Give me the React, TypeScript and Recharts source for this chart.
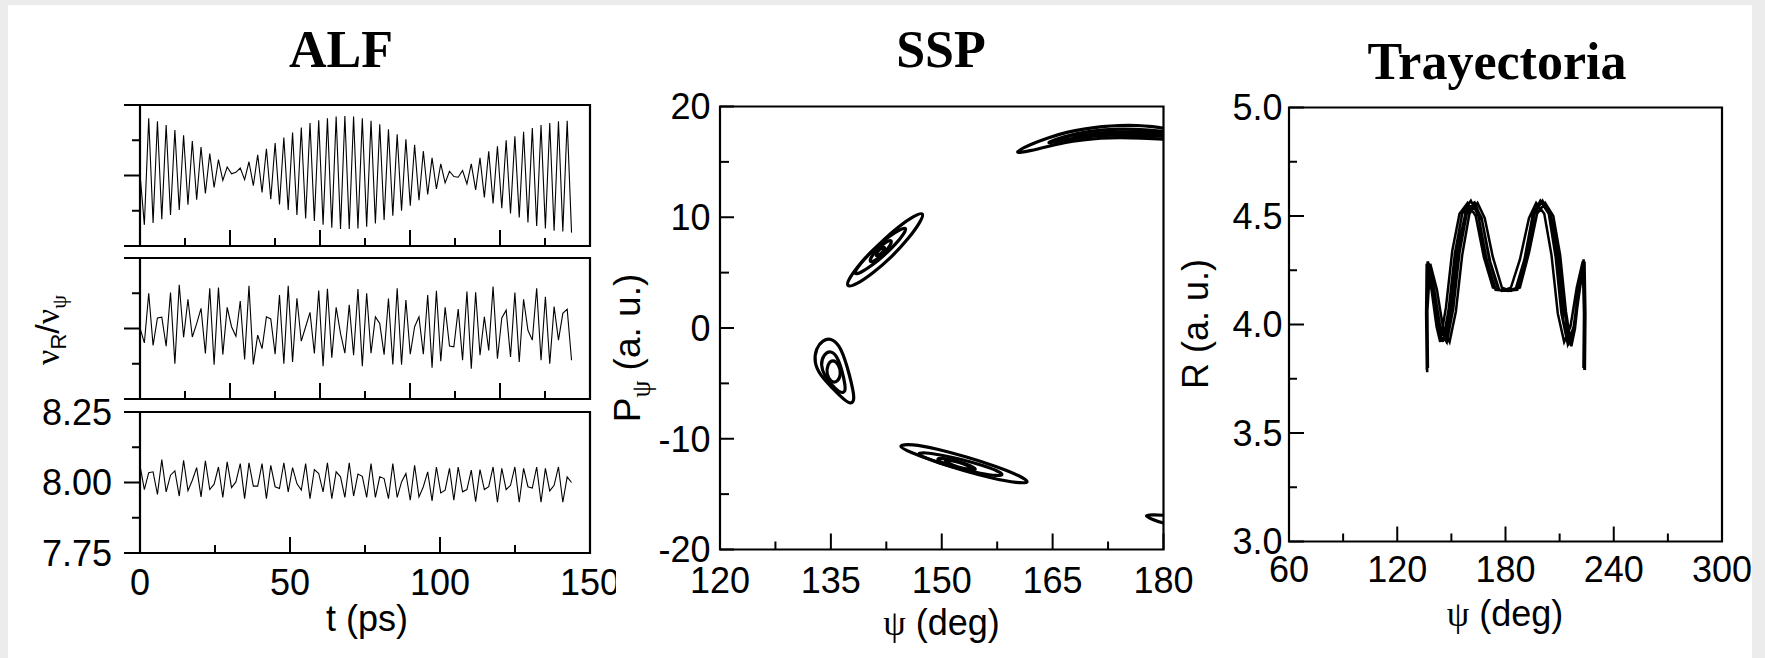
import React from 'react';
import { LineChart, Line, XAxis, YAxis, ReferenceArea } from 'recharts';

const SANS = '"Liberation Sans", Arial, Helvetica, sans-serif';
const SERIF = '"Liberation Serif", "Times New Roman", Times, serif';

// ALF: series sampled every ~1.45 ps, 0..144 ps
const ALF_T_STEP = 1.453;

const alfTop = [
  0.05, -1.40, 1.62, -1.35, 1.54, -1.24, 1.43, -1.12, 1.29, -0.98,
  1.14, -0.83, 0.98, -0.69, 0.81, -0.51, 0.62, -0.34, 0.45, -0.14,
  0.24, 0.05, 0.09, 0.21, -0.12, 0.39, -0.29, 0.59, -0.48, 0.76,
  -0.67, 0.92, -0.82, 1.08, -0.98, 1.22, -1.12, 1.36, -1.22, 1.49,
  -1.29, 1.57, -1.40, 1.62, -1.48, 1.67, -1.52, 1.69, -1.52, 1.67,
  -1.50, 1.62, -1.45, 1.55, -1.36, 1.45, -1.26, 1.31, -1.14, 1.17,
  -1.00, 1.03, -0.86, 0.87, -0.70, 0.69, -0.54, 0.50, -0.38, 0.33,
  -0.21, 0.12, -0.03, -0.05, 0.14, -0.24, 0.33, -0.41, 0.50, -0.62,
  0.69, -0.79, 0.83, -0.93, 1.00, -1.08, 1.11, -1.19, 1.24, -1.33,
  1.35, -1.43, 1.43, -1.50, 1.49, -1.57, 1.54, -1.59, 1.55, -1.62,
];

const alfMid = [
  0.02, -0.41, 1.00, -0.48, 0.30, 0.32, -0.50, 1.02, -1.00, 1.24,
  -0.25, 0.83, -0.24, 0.14, 0.57, -0.71, 1.14, -1.03, 1.16, -0.74,
  0.60, 0.05, -0.22, 0.78, -0.88, 1.21, -1.02, -0.19, -0.57, 0.33,
  0.27, -0.73, 0.95, -1.00, 1.21, -0.95, 0.86, -0.36, 0.05, 0.46,
  -0.71, 1.08, -1.07, 1.13, -0.83, 0.60, -0.14, -0.70, 0.67, -0.76,
  1.12, -1.07, 1.00, -0.70, 0.33, 0.14, -0.74, 0.85, -1.02, 1.14,
  -1.03, 0.81, -0.73, 0.05, 0.33, -0.73, 0.95, -1.11, 1.07, -0.93,
  0.60, -0.50, -0.52, 0.55, -0.90, 1.05, -1.14, 1.03, -0.76, 0.33,
  -0.62, 1.19, -0.86, 0.30, 0.52, -0.81, 1.02, -0.95, 0.83, -0.05,
  -0.33, 1.14, -0.90, 0.90, -1.00, 0.62, -0.33, 0.43, 0.55, -0.90,
];

const alfRatio = [
  8.060, 7.975, 8.035, 8.038, 7.958, 8.081, 7.967, 8.026, 8.041, 7.952,
  8.079, 7.971, 8.008, 8.053, 7.949, 8.077, 7.975, 7.994, 8.055, 7.947,
  8.073, 7.982, 8.002, 8.067, 7.943, 8.070, 7.987, 7.987, 8.067, 7.943,
  8.061, 7.985, 7.979, 8.070, 7.967, 8.053, 7.996, 7.973, 8.067, 7.943,
  8.046, 8.032, 7.967, 8.070, 7.943, 8.038, 8.020, 7.947, 8.070, 7.952,
  8.030, 8.022, 7.947, 8.067, 7.947, 8.020, 8.014, 7.943, 8.067, 7.947,
  8.002, 8.032, 7.937, 8.061, 7.949, 7.985, 8.038, 7.935, 8.055, 7.963,
  7.973, 8.050, 7.937, 8.055, 7.967, 7.975, 8.044, 7.932, 8.046, 7.975,
  7.985, 8.055, 7.930, 8.050, 7.975, 7.990, 8.055, 7.930, 8.050, 7.985,
  7.980, 8.055, 7.930, 8.050, 7.970, 7.990, 8.055, 7.930, 8.020, 8.000,
];

// SSP: closed loops [psi, P_psi]
const islandA1: [number, number][] = [
  [147.7, 10.5], [147.1, 9.55], [145.6, 8.15], [143.3, 6.45], [140.6, 4.9], [138.4, 3.9],
  [137.0, 3.65], [137.5, 4.55], [139.1, 5.95], [141.6, 7.65], [144.2, 9.2], [146.3, 10.15],
];
const islandA2: [number, number][] = [
  [145.3, 9.1], [144.92, 8.54], [143.88, 7.65], [142.25, 6.57], [140.48, 5.6], [139.03, 4.99],
  [138.1, 4.8], [138.48, 5.37], [139.52, 6.25], [141.15, 7.33], [142.92, 8.3], [144.37, 8.92],
];
const islandA3: [number, number][] = [
  [143.2, 7.9], [143.18, 7.65], [142.78, 7.21], [142.1, 6.7], [141.33, 6.25], [140.67, 5.99],
  [140.3, 5.98], [140.32, 6.23], [140.72, 6.67], [141.4, 7.18], [142.17, 7.63], [142.83, 7.89],
];
const islandA4: [number, number][] = [
  [142.3, 7.3], [142.27, 7.08], [141.9, 6.76], [141.42, 6.52], [141.1, 6.5], [141.14, 6.72], [141.5, 7.04], [141.98, 7.28],
];
const islandB1: [number, number][] = [
  [135.0, -0.9], [136.1, -1.5], [136.9, -2.8], [137.5, -4.2], [138.0, -5.6], [138.2, -6.6], [137.6, -6.9],
  [136.5, -6.3], [135.1, -5.35], [133.6, -4.3], [132.7, -3.1], [133.0, -1.8], [133.9, -1.1],
];
const islandB2: [number, number][] = [
  [135.0, -2.0], [135.9, -2.6], [136.5, -3.8], [136.9, -5.0], [137.0, -5.8], [136.3, -5.9],
  [135.2, -5.2], [134.1, -4.3], [133.6, -3.3], [134.0, -2.4],
];
const islandB3: [number, number][] = [
  [135.3, -2.8], [136.1, -3.3], [136.4, -4.2], [135.9, -4.9], [135.0, -4.9], [134.4, -4.2], [134.5, -3.3],
];
const islandC1: [number, number][] = [
  [162.1, -14.0], [160.26, -14.0], [157.13, -13.62], [152.94, -12.9], [148.83, -12.0], [145.7, -11.2],
  [143.8, -10.6], [145.9, -10.45], [149.28, -10.9], [153.46, -11.65], [157.58, -12.54], [160.6, -13.35],
];
const islandC2: [number, number][] = [
  [158.4, -13.28], [157.53, -13.36], [155.34, -13.15], [152.42, -12.72], [149.54, -12.17], [147.49, -11.66],
  [146.6, -11.3], [147.67, -11.24], [149.86, -11.45], [152.78, -11.88], [155.66, -12.43], [157.71, -12.94],
];
const islandC3: [number, number][] = [
  [154.8, -12.8], [153.91, -12.87], [151.9, -12.6], [149.95, -12.16], [149.2, -11.8], [150.09, -11.73], [152.1, -12.0], [154.05, -12.44],
];
const islandC4: [number, number][] = [
  [154.3, -12.75], [153.66, -12.79], [152.22, -12.57], [150.83, -12.22], [150.3, -11.95], [150.94, -11.91], [152.38, -12.13], [153.77, -12.48],
];
const islandD1: [number, number][] = [
  [159.4, 15.7], [162.0, 16.6], [164.5, 17.2], [166.9, 17.7], [169.5, 18.0], [171.7, 18.2], [174.0, 18.3],
  [176.5, 18.3], [178.5, 18.2], [180.5, 18.0], [182.5, 17.7], [182.5, 16.9], [180.0, 17.05], [177.0, 17.15],
  [174.1, 17.2], [171.5, 17.15], [169.2, 17.0], [166.5, 16.75], [164.4, 16.4], [162.0, 16.0],
];
const islandD2: [number, number][] = [
  [163.5, 16.55], [166.5, 17.3], [170.0, 17.8], [174.0, 18.0], [178.0, 17.9], [182.0, 17.6],
  [182.0, 17.25], [178.0, 17.35], [174.0, 17.45], [170.0, 17.35], [166.5, 17.0],
];
const islandD3: [number, number][] = [
  [166.5, 17.05], [170.0, 17.55], [174.0, 17.75], [178.0, 17.7], [182.0, 17.5], [178.0, 17.5], [174.0, 17.55], [170.0, 17.45],
];
const islandE1: [number, number][] = [
  [177.3, -16.9], [178.5, -16.85], [180.0, -16.9], [182.0, -17.0], [182.0, -17.8], [180.0, -17.65], [178.5, -17.3],
];

const sspLoops = [
  islandA1, islandA2, islandA3, islandA4,
  islandB1, islandB2, islandB3,
  islandC1, islandC2, islandC3, islandC4,
  islandD1, islandD2, islandD3,
  islandE1,
];

// Trayectoria: [psi, R], passes back and forth
const trajectory: [number, number][] = [
  [136.4, 3.79], [136.0, 4.05], [136.3, 4.28], [139.0, 4.16], [141.8, 3.99], [143.8, 3.92], [147.0, 4.08],
  [150.5, 4.34], [154.5, 4.51], [159.0, 4.56], [163.5, 4.50], [168.0, 4.31], [173.0, 4.17], [178.0, 4.155],
  [183.0, 4.17], [188.0, 4.30], [193.0, 4.49], [197.0, 4.56], [201.5, 4.51], [205.5, 4.32], [209.0, 4.05],
  [212.5, 3.92], [216.0, 3.99], [219.5, 4.17], [222.8, 4.29], [223.5, 4.05], [223.2, 3.80],
  [223.8, 4.05], [223.5, 4.27], [220.5, 4.16], [217.8, 3.99], [215.8, 3.91], [212.8, 4.06], [209.3, 4.33],
  [205.0, 4.50], [200.5, 4.57], [196.0, 4.51], [191.5, 4.32], [186.5, 4.17], [181.5, 4.155], [176.5, 4.16],
  [171.5, 4.29], [167.0, 4.48], [163.0, 4.56], [158.5, 4.51], [154.5, 4.33], [151.0, 4.07], [147.5, 3.92],
  [144.0, 3.98], [140.5, 4.16], [137.0, 4.29], [136.2, 4.05], [136.6, 3.78],
  [136.3, 4.05], [136.8, 4.29], [139.5, 4.17], [142.5, 3.99], [145.3, 3.92], [148.5, 4.07], [152.0, 4.33],
  [156.0, 4.51], [160.8, 4.57], [165.0, 4.50], [169.5, 4.30], [174.5, 4.16], [180.0, 4.155], [185.5, 4.16],
  [190.5, 4.30], [195.0, 4.50], [199.3, 4.57], [204.0, 4.51], [207.8, 4.31], [211.0, 4.05], [214.5, 3.91],
  [217.8, 3.99], [220.8, 4.17], [223.3, 4.30], [224.0, 4.05], [223.7, 3.79],
  [224.2, 4.05], [223.8, 4.28], [221.0, 4.17], [218.5, 3.98], [216.5, 3.90], [213.5, 4.06], [210.3, 4.32],
  [206.5, 4.50], [202.0, 4.56], [197.5, 4.51], [193.0, 4.33], [188.0, 4.17], [183.0, 4.155], [178.0, 4.17],
  [173.0, 4.31], [168.5, 4.49], [164.5, 4.56], [160.0, 4.51], [156.0, 4.32], [152.5, 4.06], [149.0, 3.92],
  [145.5, 3.98], [142.0, 4.16], [138.3, 4.28], [136.6, 4.05], [137.0, 3.80],
  [136.7, 4.06], [137.3, 4.28], [140.2, 4.16], [143.5, 3.99], [146.8, 3.93], [150.0, 4.09], [153.8, 4.36],
  [158.0, 4.52], [162.5, 4.56], [166.8, 4.49], [171.0, 4.30], [176.0, 4.16], [181.0, 4.155], [186.5, 4.16],
  [191.5, 4.31], [196.0, 4.51], [200.5, 4.57], [205.0, 4.50], [208.8, 4.29], [212.0, 4.02], [215.3, 3.92],
  [218.5, 4.00], [221.5, 4.18], [223.8, 4.29], [224.3, 4.05], [224.0, 3.79],
];

// ticks
const alfXTicks = [0, 15, 30, 45, 60, 75, 90, 105, 120, 135, 150];
const alfXMajor = [0, 30, 60, 90, 120, 150];
const ratioXTicks = [0, 25, 50, 75, 100, 125, 150];
const ratioXMajor = [0, 50, 100, 150];
const alfYTicks = [-2, -1, 0, 1, 2];
const alfYMajor = [-2, 0, 2];
const ratioYTicks = [7.75, 7.875, 8, 8.125, 8.25];
const ratioYMajor = [7.75, 8, 8.25];
const sspXTicks = [120, 127.5, 135, 142.5, 150, 157.5, 165, 172.5, 180];
const sspXMajor = [120, 135, 150, 165, 180];
const sspYTicks = [-20, -15, -10, -5, 0, 5, 10, 15, 20];
const sspYMajor = [-20, -10, 0, 10, 20];
const trajXTicks = [60, 90, 120, 150, 180, 210, 240, 270, 300];
const trajXMajor = [60, 120, 180, 240, 300];
const trajYTicks = [3, 3.25, 3.5, 3.75, 4, 4.25, 4.5, 4.75, 5];
const trajYMajor = [3, 3.5, 4, 4.5, 5];

interface TickOpts {
  side: 'left' | 'bottom';
  major: number[];
  majorLen: number;
  minorLen: number;
  inward: boolean;
  gap?: number;
  format?: (v: number) => string;
}

function axisTick(o: TickOpts) {
  return (props: any) => {
    const { x, y, payload } = props;
    const v = payload.value;
    const isMajor = o.major.some((m) => Math.abs(m - v) < 1e-9);
    const len = isMajor ? o.majorLen : o.minorLen;
    const label = isMajor && o.format ? o.format(v) : null;
    if (o.side === 'left') {
      const x2 = o.inward ? x + len : x - len;
      return (
        <g>
          <line x1={x} y1={y} x2={x2} y2={y} stroke="#000" strokeWidth={2} />
          {label !== null && (
            <text x={x - (o.gap || 0)} y={y} dy="0.36em" textAnchor="end" fontFamily={SANS} fontSize={36} fill="#000">
              {label}
            </text>
          )}
        </g>
      );
    }
    return (
      <g>
        <line x1={x} y1={y} x2={x} y2={y - len} stroke="#000" strokeWidth={2} />
        {label !== null && (
          <text x={x} y={y + (o.gap || 0)} textAnchor="middle" fontFamily={SANS} fontSize={36} fill="#000">
            {label}
          </text>
        )}
      </g>
    );
  };
}

interface PanelProps {
  cx: number; cy: number; cw: number; ch: number;
  px: number; py: number; pw: number; ph: number;
  xDomain: [number, number];
  yDomain: [number, number];
  xTicks: number[];
  yTicks: number[];
  xTick: any;
  yTick: any;
  xKey: string;
  data?: any[];
  clip?: boolean;
  children: React.ReactNode;
}

function Panel(p: PanelProps) {
  const margin = { top: p.py - p.cy, left: 0, right: p.cx + p.cw - (p.px + p.pw), bottom: 0 };
  return (
    <div style={{ position: 'absolute', left: p.cx, top: p.cy, width: p.cw, height: p.ch, overflow: p.clip ? 'hidden' : 'visible' }}>
      <LineChart width={p.cw} height={p.ch} data={p.data} margin={margin}>
        <XAxis
          type="number" dataKey={p.xKey} domain={p.xDomain} ticks={p.xTicks} interval={0} allowDataOverflow
          tickLine={false} axisLine={false} tickSize={0} tickMargin={0}
          height={p.cy + p.ch - (p.py + p.ph)} tick={p.xTick}
        />
        <YAxis
          type="number" domain={p.yDomain} ticks={p.yTicks} interval={0} allowDataOverflow
          tickLine={false} axisLine={false} tickSize={0} tickMargin={0}
          width={p.px - p.cx} tick={p.yTick}
        />
        <ReferenceArea
          x1={p.xDomain[0]} x2={p.xDomain[1]} y1={p.yDomain[0]} y2={p.yDomain[1]}
          fill="none" fillOpacity={0} stroke="#000" strokeWidth={2.2} ifOverflow="visible"
        />
        {p.children}
      </LineChart>
    </div>
  );
}

export default function App() {
  const topRows = alfTop.map((v, i) => ({ t: i * ALF_T_STEP, v }));
  const midRows = alfMid.map((v, i) => ({ t: i * ALF_T_STEP, v }));
  const ratioRows = alfRatio.map((v, i) => ({ t: i * ALF_T_STEP, v }));

  const alfXTick = axisTick({ side: 'bottom', major: alfXMajor, majorLen: 16, minorLen: 8, inward: true });
  const alfYTick = axisTick({ side: 'left', major: alfYMajor, majorLen: 16, minorLen: 8, inward: false });
  const ratioXTick = axisTick({ side: 'bottom', major: ratioXMajor, majorLen: 16, minorLen: 8, inward: true, gap: 42, format: (v) => String(v) });
  const ratioYTick = axisTick({ side: 'left', major: ratioYMajor, majorLen: 16, minorLen: 8, inward: false, gap: 28, format: (v) => v.toFixed(2) });
  const sspXTick = axisTick({ side: 'bottom', major: sspXMajor, majorLen: 16, minorLen: 8, inward: true, gap: 43, format: (v) => String(v) });
  const sspYTick = axisTick({ side: 'left', major: sspYMajor, majorLen: 14, minorLen: 9, inward: true, gap: 9.5, format: (v) => String(v) });
  const trajXTick = axisTick({ side: 'bottom', major: trajXMajor, majorLen: 15, minorLen: 8, inward: true, gap: 40, format: (v) => String(v) });
  const trajYTick = axisTick({ side: 'left', major: trajYMajor, majorLen: 15, minorLen: 8, inward: true, gap: 6.5, format: (v) => v.toFixed(1) });

  const trajData = trajectory.map(([x, y]) => ({ x, y }));

  return (
    <div style={{ position: 'absolute', left: 0, top: 0, width: 1765, height: 658, background: '#ececec', overflow: 'hidden' }}>
      <div style={{ position: 'absolute', left: 8, top: 5, width: 1744, height: 653, background: '#ffffff' }} />

      <Panel cx={0} cy={85} cw={616} ch={167} px={140} py={105} pw={450} ph={141}
        xDomain={[0, 150]} yDomain={[-2, 2]} xTicks={alfXTicks} yTicks={alfYTicks}
        xTick={alfXTick} yTick={alfYTick} xKey="t" data={topRows}>
        <Line dataKey="v" type="linear" stroke="#000" strokeWidth={1.1} dot={false} isAnimationActive={false} />
      </Panel>

      <Panel cx={0} cy={245} cw={616} ch={160} px={140} py={258} pw={450} ph={141}
        xDomain={[0, 150]} yDomain={[-2, 2]} xTicks={alfXTicks} yTicks={alfYTicks}
        xTick={alfXTick} yTick={alfYTick} xKey="t" data={midRows}>
        <Line dataKey="v" type="linear" stroke="#000" strokeWidth={1.1} dot={false} isAnimationActive={false} />
      </Panel>

      <Panel cx={0} cy={385} cw={616} ch={273} px={140} py={412} pw={450} ph={141} clip
        xDomain={[0, 150]} yDomain={[7.75, 8.25]} xTicks={ratioXTicks} yTicks={ratioYTicks}
        xTick={ratioXTick} yTick={ratioYTick} xKey="t" data={ratioRows}>
        <Line dataKey="v" type="linear" stroke="#000" strokeWidth={1.1} dot={false} isAnimationActive={false} />
      </Panel>

      <Panel cx={640} cy={75} cw={570} ch={583} px={720} py={106.5} pw={443.5} ph={443}
        xDomain={[120, 180]} yDomain={[-20, 20]} xTicks={sspXTicks} yTicks={sspYTicks}
        xTick={sspXTick} yTick={sspYTick} xKey="x">
        {sspLoops.map((loop, i) => (
          <Line key={i} data={loop.map(([x, y]) => ({ x, y }))} dataKey="y" type="basisClosed"
            stroke="#000" strokeWidth={3.2} dot={false} isAnimationActive={false} />
        ))}
      </Panel>

      <Panel cx={1215} cy={75} cw={545} ch={583} px={1289} py={107.5} pw={433} ph={434}
        xDomain={[60, 300]} yDomain={[3, 5]} xTicks={trajXTicks} yTicks={trajYTicks}
        xTick={trajXTick} yTick={trajYTick} xKey="x">
        <Line data={trajData} dataKey="y" type="linear" stroke="#000" strokeWidth={2.5}
          dot={false} isAnimationActive={false} />
      </Panel>

      <svg width={1765} height={658} style={{ position: 'absolute', left: 0, top: 0, pointerEvents: 'none' }}>
        <g fontFamily={SERIF} fontWeight="bold" fontSize={52} textAnchor="middle" fill="#000">
          <text x={341} y={67}>ALF</text>
          <text x={941} y={67}>SSP</text>
          <text x={1497} y={79}>Trayectoria</text>
        </g>
        <g fontFamily={SANS} fontSize={36} fill="#000">
          <text x={367} y={631} textAnchor="middle">t (ps)</text>
          <text x={941.5} y={635} textAnchor="middle"><tspan fontFamily={SERIF}>ψ</tspan> (deg)</text>
          <text x={1505} y={626} textAnchor="middle"><tspan fontFamily={SERIF}>ψ</tspan> (deg)</text>
          <text transform="translate(59,330) rotate(-90)" textAnchor="middle" fontSize={34}>
            <tspan fontFamily={SERIF}>ν</tspan>
            <tspan fontSize={22} dy={7}>R</tspan>
            <tspan dy={-7}>/</tspan>
            <tspan fontFamily={SERIF}>ν</tspan>
            <tspan fontFamily={SERIF} fontSize={22} dy={7}>ψ</tspan>
          </text>
          <text transform="translate(640,348) rotate(-90)" textAnchor="middle" fontSize={37}>
            P<tspan fontFamily={SERIF} fontSize={27} dy={10}>ψ</tspan><tspan dy={-10}> (a. u.)</tspan>
          </text>
          <text transform="translate(1208,324) rotate(-90)" textAnchor="middle">R (a. u.)</text>
        </g>
      </svg>
    </div>
  );
}
